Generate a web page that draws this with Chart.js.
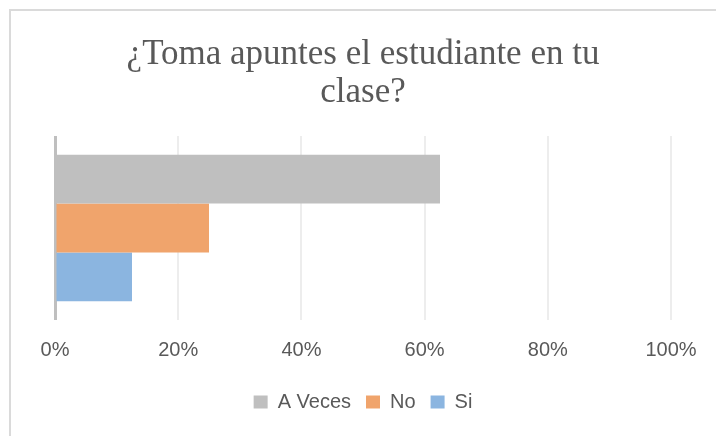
<!DOCTYPE html>
<html>
<head>
<meta charset="utf-8">
<script src="https://cdn.jsdelivr.net/npm/chart.js@4"></script>
<style>
  html, body { margin: 0; padding: 0; background: #fff; }
  #wrap { position: relative; width: 716px; height: 436px; overflow: hidden; }
  #frame { position: absolute; left: 9px; top: 9px; width: 760px; height: 480px; border: 2px solid #dadada; box-sizing: border-box; }
  canvas { position: absolute; left: 0; top: 0; }
</style>
</head>
<body>
<div id="wrap">
  <div id="frame"></div>
  <canvas id="chart" width="716" height="436"></canvas>
</div>
<script>
const titleLines = ["¿Toma apuntes el estudiante en tu", "clase?"];
const categories = [""];
const seriesNames = ["A Veces", "No", "Si"];
const aVeces = [62.5];
const no = [25];
const si = [12.5];
const seriesColors = ["#bfbfbf", "#f0a46c", "#8bb5e0"];
const xTicks = [0, 20, 40, 60, 80, 100];

const textColor = "#595959";

new Chart(document.getElementById("chart"), {
  type: "bar",
  data: {
    labels: categories,
    datasets: [aVeces, no, si].map((values, i) => ({
      label: seriesNames[i],
      data: values,
      backgroundColor: seriesColors[i],
      borderWidth: 0,
      barPercentage: 1,
      categoryPercentage: 0.795
    }))
  },
  options: {
    indexAxis: "y",
    responsive: false,
    animation: false,
    layout: { padding: { left: 55, right: 45, top: 0, bottom: 14 } },
    plugins: {
      title: {
        display: true,
        text: titleLines,
        color: textColor,
        font: { family: "Liberation Serif", size: 35, weight: "normal", lineHeight: "38px" },
        padding: { top: 36, bottom: 24 }
      },
      legend: {
        position: "bottom",
        labels: {
          color: textColor,
          font: { family: "Liberation Sans", size: 20 },
          boxWidth: 14,
          boxHeight: 13,
          padding: 15
        }
      },
      tooltip: { enabled: false }
    },
    scales: {
      x: {
        min: 0,
        max: 100,
        afterBuildTicks(scale) {
          scale.ticks = xTicks.map((v) => ({ value: v }));
        },
        afterFit(scale) {
          scale.height = 57;
        },
        ticks: {
          color: textColor,
          font: { family: "Liberation Sans", size: 20 },
          padding: 18,
          maxRotation: 0,
          callback(value) {
            return value + "%";
          }
        },
        grid: {
          drawTicks: false,
          color(ctx) {
            return ctx.index === 0 ? "#bfbfbf" : "#ededed";
          },
          lineWidth(ctx) {
            return ctx.index === 0 ? 3 : 2;
          }
        },
        border: { display: false }
      },
      y: {
        display: false
      }
    }
  }
});
</script>
</body>
</html>
